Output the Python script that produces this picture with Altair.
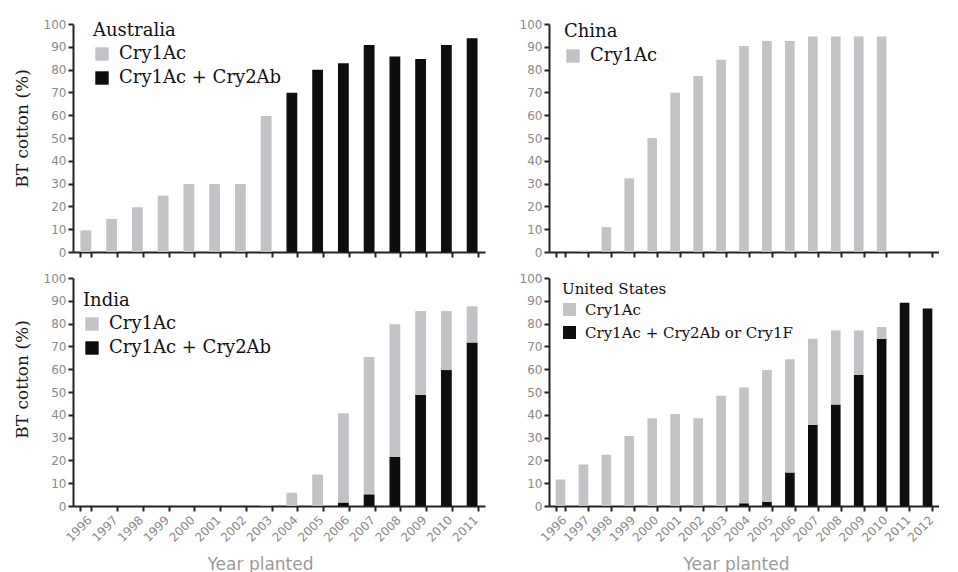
import altair as alt
import pandas as pd

GRAY = "#c3c3c7"
BLACK = "#0e0e0e"
AXIS = "#222222"
TICKLAB = "#8a8a8a"

years16 = ["1996", "1997", "1998", "1999", "2000", "2001", "2002", "2003",
           "2004", "2005", "2006", "2007", "2008", "2009", "2010", "2011"]
years17 = years16 + ["2012"]

# Australia (single-gene vs dual-gene share, % of cotton area)
aus_cry1ac = [9.5, 14.5, 19.6, 24.7, 29.8, 29.8, 29.8, 59.7, 0, 0, 0, 0, 0, 0, 0, 0]
aus_dual = [0, 0, 0, 0, 0, 0, 0, 0, 69.9, 79.9, 82.8, 90.8, 85.7, 84.7, 90.8, 93.7]

# China
china_cry1ac = [0, 0.7, 10.9, 32.3, 50.0, 69.9, 77.2, 84.3, 90.3, 92.5, 92.5,
                94.5, 94.5, 94.5, 94.5, 0, 0]

# India (stacked segments)
india_cry1ac = [0, 0, 0, 0, 0, 0, 0, 0.5, 5.8, 13.8, 39.2, 60.3, 58.2, 36.7, 25.9, 15.9]
india_dual = [0, 0, 0, 0, 0, 0, 0, 0, 0, 0, 1.5, 5.1, 21.5, 48.8, 59.6, 71.7]

# United States (stacked segments)
us_cry1ac = [11.6, 18.2, 22.5, 30.7, 38.5, 40.4, 38.5, 48.4, 50.8, 57.8, 49.7,
             37.8, 32.5, 19.4, 5.1, 0, 0]
us_dual = [0, 0, 0, 0, 0, 0, 0, 0, 1.2, 1.9, 14.7, 35.6, 44.5, 57.6, 73.4, 89.1, 86.6]

single_label = "Cry1Ac"
dual_label = "Cry1Ac + Cry2Ab"
us_dual_label = "Cry1Ac + Cry2Ab or Cry1F"


def make_df(years, single, dual, s_lab, d_lab):
    rows = []
    for i, y in enumerate(years):
        if dual is not None:
            rows.append({"year": y, "type": d_lab, "value": dual[i], "ord": 0})
        rows.append({"year": y, "type": s_lab, "value": single[i], "ord": 1})
    return pd.DataFrame(rows)


def panel(df, years, width, types, colors, country, lx, ly, fsize, tpad, rpad,
          ssize, show_x_labels, y_title, title_y):
    if show_x_labels:
        x_axis = alt.Axis(tickBand="extent", labelAngle=-45, labelFont="DejaVu Sans",
                          labelFontSize=12, labelColor=TICKLAB, labelPadding=3,
                          domainColor=AXIS, domainWidth=2, tickColor=AXIS, tickWidth=2,
                          tickSize=5, title="Year planted", titleFont="DejaVu Sans",
                          titleFontSize=17, titleFontWeight="normal", titleColor="#9a9a9a",
                          titlePadding=13, titleX=187)
    else:
        x_axis = alt.Axis(tickBand="extent", labels=False, domainColor=AXIS, domainWidth=2,
                          tickColor=AXIS, tickWidth=2, tickSize=5, title=None)
    y_kwargs = dict(values=[0, 10, 20, 30, 40, 50, 60, 70, 80, 90, 100],
                    labelFont="DejaVu Sans", labelFontSize=12, labelColor=TICKLAB,
                    labelPadding=2, domainColor=AXIS, domainWidth=2, tickColor=AXIS,
                    tickWidth=2, tickSize=5, grid=False)
    if y_title:
        y_axis = alt.Axis(title="BT cotton (%)", titleFont="DejaVu Serif", titleFontSize=17,
                          titleFontWeight="normal", titleColor="#1a1a1a", titlePadding=12,
                          titleY=title_y, **y_kwargs)
    else:
        y_axis = alt.Axis(title=None, **y_kwargs)
    legend = alt.Legend(orient="none", legendX=lx, legendY=ly, title=country,
                        titleFont="DejaVu Serif", titleFontSize=fsize, titleFontWeight="normal",
                        titleColor="#111111", titlePadding=tpad, titleLimit=0,
                        labelFont="DejaVu Serif", labelFontSize=fsize, labelColor="#111111",
                        labelOffset=8, labelLimit=0,
                        symbolType="square", symbolSize=ssize, symbolStrokeWidth=0,
                        rowPadding=rpad, padding=0)
    return alt.Chart(df).mark_bar().encode(
        x=alt.X("year:N", sort=years,
                scale=alt.Scale(domain=years, paddingInner=0.58, paddingOuter=0.29),
                axis=x_axis),
        y=alt.Y("value:Q", stack="zero", scale=alt.Scale(domain=[0, 100], nice=False),
                axis=y_axis),
        color=alt.Color("type:N", scale=alt.Scale(domain=types, range=colors), legend=legend),
        order=alt.Order("ord:Q"),
    ).properties(width=width, height=228)


aus = panel(make_df(years16, aus_cry1ac, aus_dual, single_label, dual_label), years16, 412,
            [single_label, dual_label], [GRAY, BLACK], "Australia", 20, -2, 18, 5, 6, 180,
            False, True, 104)
china = panel(make_df(years17, china_cry1ac, None, single_label, None), years17, 390,
              [single_label], [GRAY], "China", 15, -1, 18, 6, 6, 180, False, False, 0)
india = panel(make_df(years16, india_cry1ac, india_dual, single_label, dual_label), years16, 412,
              [single_label, dual_label], [GRAY, BLACK], "India", 10, 14, 18, 5, 6, 180,
              True, True, 101)
us = panel(make_df(years17, us_cry1ac, us_dual, single_label, us_dual_label), years17, 390,
           [single_label, us_dual_label], [GRAY, BLACK], "United States", 13, 4, 15, 5, 7, 170,
           True, False, 0)

res = dict(x="independent", y="independent", color="independent")
top = alt.hconcat(aus, china, spacing=34).resolve_scale(**res).resolve_legend(color="independent")
bottom = alt.hconcat(india, us, spacing=34).resolve_scale(**res).resolve_legend(color="independent")
chart = alt.vconcat(top, bottom, spacing=14).resolve_scale(**res).resolve_legend(
    color="independent"
).configure(
    padding={"left": 5, "top": 10, "right": 0, "bottom": 0}
).configure_view(stroke=None)

chart.save("out.html", embed_options={"renderer": "svg", "actions": False})
